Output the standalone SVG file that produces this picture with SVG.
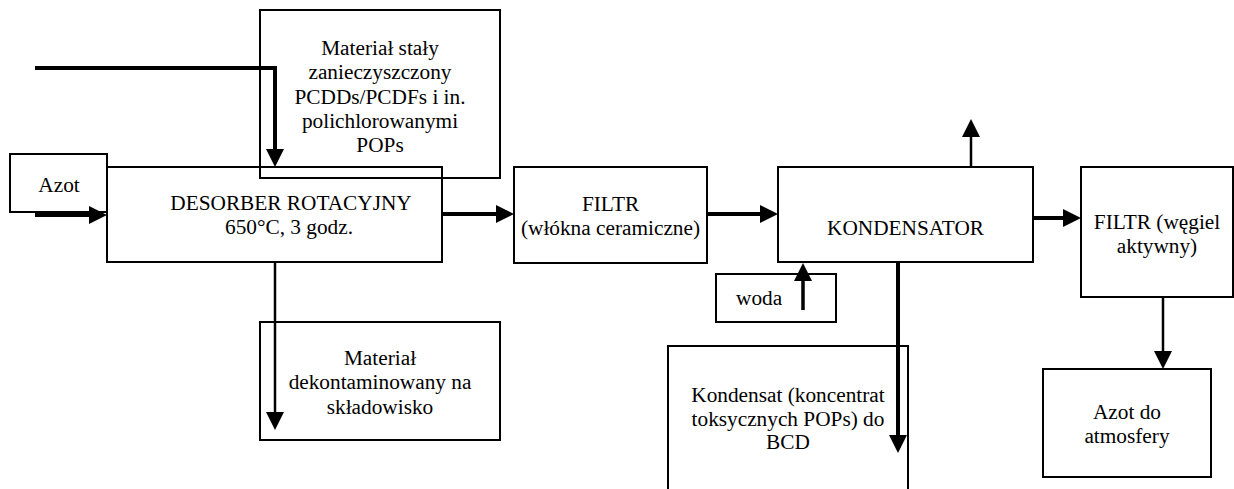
<svg xmlns="http://www.w3.org/2000/svg" width="1234" height="489" viewBox="0 0 1234 489">
<style>
.box{fill:none;stroke:#000;stroke-width:2}
.t{font-size:21.3px;fill:#000;text-anchor:middle}
.thick{fill:none;stroke:#000;stroke-width:4}
.thin{fill:none;stroke:#000;stroke-width:2.5}
</style>
<defs>
<marker id="ah" markerUnits="userSpaceOnUse" markerWidth="18" markerHeight="18" refX="8" refY="9" orient="auto" viewBox="0 0 18 18">
<path d="M0,0 L18,9 L0,18 Z" fill="#000"/>
</marker>
</defs>
<rect width="1234" height="489" fill="#fff"/>
<g font-family="Liberation Serif, Tinos, Times New Roman, DejaVu Serif, serif">

<g id="material-staly">
<rect class="box" x="260" y="10" width="240" height="168"/>
<text class="t" x="380" y="55">Materiał stały</text>
<text class="t" x="380" y="79">zanieczyszczony</text>
<text class="t" x="380" y="103.5">PCDDs/PCDFs i in.</text>
<text class="t" x="380" y="127.5">polichlorowanymi</text>
<text class="t" x="380" y="152">POPs</text>
</g>

<g id="azot">
<rect class="box" x="10" y="154" width="97" height="58"/>
<text class="t" x="59" y="192">Azot</text>
</g>

<g id="desorber">
<rect class="box" x="107" y="167" width="335" height="95"/>
<text class="t" x="291" y="210">DESORBER ROTACYJNY</text>
<text class="t" x="289" y="234">650°C, 3 godz.</text>
</g>

<g id="filtr-ceramiczne">
<rect class="box" x="514" y="167" width="193" height="96"/>
<text class="t" x="610.5" y="211">FILTR</text>
<text class="t" x="610.5" y="235">(włókna ceramiczne)</text>
</g>

<g id="kondensator">
<rect class="box" x="778" y="167" width="255" height="95"/>
<text class="t" x="905.5" y="235">KONDENSATOR</text>
</g>

<g id="filtr-wegiel">
<rect class="box" x="1081" y="167" width="152" height="130"/>
<text class="t" x="1157" y="229">FILTR (węgiel</text>
<text class="t" x="1157" y="253">aktywny)</text>
</g>

<g id="woda">
<rect class="box" x="716" y="274" width="120" height="48"/>
<text class="t" x="736" y="305" style="text-anchor:start">woda</text>
</g>

<g id="material-dekontaminowany">
<rect class="box" x="260" y="322" width="240" height="118"/>
<text class="t" x="380" y="365">Materiał</text>
<text class="t" x="380" y="389">dekontaminowany na</text>
<text class="t" x="380" y="414">składowisko</text>
</g>

<g id="kondensat">
<path class="box" d="M668,495 V346 H908 V495"/>
<text class="t" x="788" y="402">Kondensat (koncentrat</text>
<text class="t" x="788" y="426">toksycznych POPs) do</text>
<text class="t" x="788" y="449">BCD</text>
</g>

<g id="azot-atmosfera">
<rect class="box" x="1043" y="369" width="168" height="108"/>
<text class="t" x="1127" y="419">Azot do</text>
<text class="t" x="1127" y="443">atmosfery</text>
</g>
</g>

<g id="connectors">
<polyline class="thick" points="35,68 275,68 275,157" marker-end="url(#ah)"/>
<line class="thick" x1="35" y1="215" x2="97" y2="215" marker-end="url(#ah)"/>
<line class="thick" x1="442" y1="214" x2="504" y2="214" marker-end="url(#ah)"/>
<line class="thick" x1="707" y1="214" x2="768" y2="214" marker-end="url(#ah)"/>
<line class="thick" x1="1033" y1="218" x2="1071" y2="218" marker-end="url(#ah)"/>
<line class="thin" x1="971" y1="167" x2="971" y2="129" marker-end="url(#ah)"/>
<line class="thick" x1="803" y1="310" x2="803" y2="273" style="stroke-width:3.5" marker-end="url(#ah)"/>
<line class="thick" x1="898" y1="263" x2="898" y2="443" marker-end="url(#ah)"/>
<line class="thin" x1="275" y1="262" x2="275" y2="420" marker-end="url(#ah)"/>
<line class="thin" x1="1163" y1="297" x2="1163" y2="359" marker-end="url(#ah)"/>
</g>
</svg>
